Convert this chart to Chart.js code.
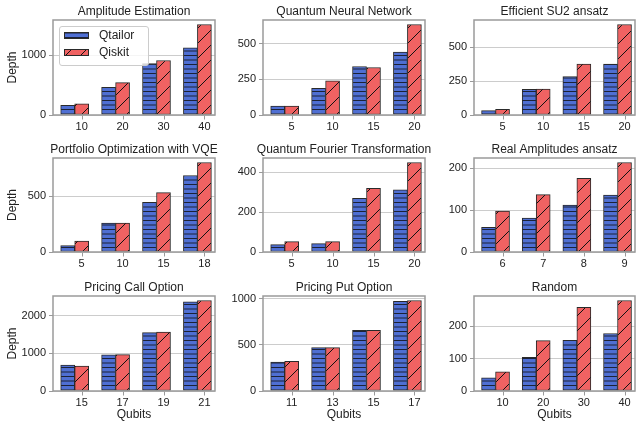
<!DOCTYPE html>
<html lang="en">
<head>
<meta charset="UTF-8">
<title>Circuit depth: Qtailor vs Qiskit</title>
<script src="https://cdn.jsdelivr.net/npm/chart.js"></script>
<style>
  body { margin: 0; background: #fff; }
  #grid { position: relative; width: 637px; height: 426px; overflow: hidden; }
  #grid canvas { position: absolute; }
</style>
</head>
<body>
<div id="grid"></div>
<script>
// data
const seriesNames = ['Qtailor', 'Qiskit'];
const panelTitles = [
  'Amplitude Estimation', 'Quantum Neural Network', 'Efficient SU2 ansatz',
  'Portfolio Optimization with VQE', 'Quantum Fourier Transformation', 'Real Amplitudes ansatz',
  'Pricing Call Option', 'Pricing Put Option', 'Random'
];
const qubitLabels = [
  ['10', '20', '30', '40'], ['5', '10', '15', '20'], ['5', '10', '15', '20'],
  ['5', '10', '15', '18'], ['5', '10', '15', '20'], ['6', '7', '8', '9'],
  ['15', '17', '19', '21'], ['11', '13', '15', '17'], ['10', '20', '30', '40']
];
const qtailorDepth = [
  [160, 460, 860, 1120], [63, 187, 341, 442], [32, 189, 284, 375],
  [57, 259, 446, 687], [37, 42, 270, 312], [59, 81, 112, 136],
  [687, 960, 1551, 2370], [313, 468, 655, 968], [41, 104, 157, 178]
];
const qiskitDepth = [
  [185, 540, 910, 1510], [63, 241, 334, 636], [42, 191, 375, 667],
  [98, 259, 533, 804], [52, 52, 320, 450], [98, 137, 176, 214],
  [661, 965, 1568, 2405], [320, 468, 655, 978], [59, 156, 259, 280]
];
const depthStep = [1000, 250, 250, 500, 200, 100, 1000, 500, 100];

// layout of the 3x3 grid (axes frames in page pixels)
const frameLeft = [53, 263, 474], frameRight = [215, 425, 635];
const frameTop = [20, 158, 296], frameBottom = [115, 252, 391];
const xAxisHeight = [22, 22, 35];
const Y_W = 52, TITLE_H = 20, BAR_W = 14;

Chart.defaults.font.family = '"Liberation Sans", Arial, sans-serif';
Chart.defaults.color = '#222';

function hatch(fill, kind) {
    const c = document.createElement('canvas');
    const g = c.getContext('2d');
    if (kind === '-') {
        c.width = 8; c.height = 9;
        g.fillStyle = fill; g.fillRect(0, 0, 8, 9);
        g.fillStyle = '#1c2236';
        g.fillRect(0, 1, 8, 1);
        g.fillRect(0, 5.5, 8, 1);
    } else {
        c.width = 15; c.height = 15;
        g.fillStyle = fill; g.fillRect(0, 0, 15, 15);
        g.strokeStyle = '#111'; g.lineWidth = 1;
        g.beginPath();
        g.moveTo(-1, 16); g.lineTo(16, -1);
        g.moveTo(-1, 1); g.lineTo(1, -1);
        g.moveTo(14, 16); g.lineTo(16, 14);
        g.stroke();
    }
    return g.createPattern(c, 'repeat');
}

const blueFill = hatch('#4f6fd3', '-');
const redFill = hatch('#f06262', '/');

// grey box round the plot area, like matplotlib spines
const frameBox = {
    id: 'frameBox',
    afterDatasetsDraw(chart) {
        const { ctx, chartArea: a } = chart;
        ctx.save();
        ctx.strokeStyle = '#9a9a9a';
        ctx.lineWidth = 1.5;
        ctx.strokeRect(a.left, a.top, a.width, a.height);
        ctx.restore();
    }
};

// small x tick marks under the Qiskit bars
const qubitTicks = {
    id: 'qubitTicks',
    afterDatasetsDraw(chart) {
        const { ctx, chartArea: a } = chart;
        ctx.save();
        ctx.strokeStyle = '#9a9a9a';
        ctx.lineWidth = 1;
        chart.getDatasetMeta(1).data.forEach(bar => {
            const x = Math.round(bar.x) + 0.5;
            ctx.beginPath();
            ctx.moveTo(x, a.bottom + 0.75);
            ctx.lineTo(x, a.bottom + 4.5);
            ctx.stroke();
        });
        ctx.restore();
    }
};

// legend inside the first panel, upper left
const boxLegend = {
    id: 'boxLegend',
    afterDatasetsDraw(chart, args, opts) {
        if (!opts.show) return;
        const { ctx, chartArea: a } = chart;
        const x = a.left + 6, y = a.top + 6;
        ctx.save();
        ctx.beginPath();
        ctx.roundRect(x + 0.5, y + 0.5, 89, 39, 2.5);
        ctx.fillStyle = 'rgba(255,255,255,0.8)';
        ctx.fill();
        ctx.strokeStyle = '#cccccc';
        ctx.lineWidth = 1;
        ctx.stroke();
        ctx.font = '12px "Liberation Sans", Arial, sans-serif';
        ctx.textBaseline = 'middle';
        chart.data.datasets.forEach((ds, k) => {
            const sy = y + 6 + k * 17;
            ctx.fillStyle = ds.backgroundColor;
            ctx.fillRect(x + 5, sy, 25, 7);
            ctx.strokeStyle = ds.borderColor;
            ctx.strokeRect(x + 5.5, sy + 0.5, 24, 6);
            ctx.fillStyle = '#222';
            ctx.fillText(ds.label, x + 40, sy + 3.5);
        });
        ctx.restore();
    }
};

const grid = document.getElementById('grid');

panelTitles.forEach((title, p) => {
    const r = Math.floor(p / 3), c = p % 3;
    const canvas = document.createElement('canvas');
    canvas.width = Y_W * 2 + frameRight[c] - frameLeft[c];
    canvas.height = TITLE_H + frameBottom[r] - frameTop[r] + xAxisHeight[r];
    canvas.style.left = (frameLeft[c] - Y_W) + 'px';
    canvas.style.top = (frameTop[r] - TITLE_H) + 'px';
    grid.appendChild(canvas);

    const yMax = Math.max(...qtailorDepth[p], ...qiskitDepth[p]) * 1.05;

    new Chart(canvas, {
        type: 'bar',
        data: {
            datasets: [
                {
                    label: seriesNames[0],
                    data: qtailorDepth[p].map((v, i) => ({ x: i, y: v })),
                    backgroundColor: blueFill,
                    borderColor: '#2a2a2a',
                    borderWidth: 1,
                    borderSkipped: false,
                    barThickness: BAR_W
                },
                {
                    label: seriesNames[1],
                    data: qiskitDepth[p].map((v, i) => ({ x: i, y: v })),
                    backgroundColor: redFill,
                    borderColor: '#2a2a2a',
                    borderWidth: 1,
                    borderSkipped: false,
                    barThickness: BAR_W
                }
            ]
        },
        options: {
            responsive: false,
            animation: false,
            events: [],
            scales: {
                x: {
                    type: 'linear',
                    offset: false,
                    min: -0.53,
                    max: 3.43,
                    afterFit: s => { s.height = xAxisHeight[r]; },
                    grid: { display: false, drawTicks: false },
                    border: { display: false },
                    ticks: {
                        stepSize: 1,
                        includeBounds: false,
                        autoSkip: false,
                        maxRotation: 0,
                        labelOffset: BAR_W / 2,
                        padding: 5,
                        font: { size: 11 },
                        callback: v => qubitLabels[p][v]
                    },
                    title: {
                        display: r === 2,
                        text: 'Qubits',
                        font: { size: 12, lineHeight: 1.25 },
                        padding: { top: 0, bottom: 4 }
                    }
                },
                y: {
                    min: 0,
                    max: yMax,
                    afterFit: s => { s.width = Y_W; },
                    afterBuildTicks: s => {
                        const t = [];
                        for (let v = 0; v <= yMax; v += depthStep[p]) t.push({ value: v });
                        s.ticks = t;
                    },
                    grid: { color: '#cccccc', lineWidth: 1, tickLength: 4, tickColor: '#9a9a9a', tickWidth: 1 },
                    border: { display: false },
                    ticks: {
                        padding: 3,
                        font: { size: 11 },
                        callback: v => String(v)
                    },
                    title: {
                        display: c === 0,
                        text: 'Depth',
                        font: { size: 12, lineHeight: 1.25 },
                        padding: { top: 4, bottom: 0 }
                    }
                },
                // empty axis on the right so the centred title sits over the plot area
                spacer: {
                    type: 'linear',
                    position: 'right',
                    afterFit: s => { s.width = Y_W; },
                    grid: { display: false, drawTicks: false },
                    border: { display: false },
                    ticks: { display: false }
                }
            },
            plugins: {
                legend: { display: false },
                tooltip: { enabled: false },
                title: {
                    display: true,
                    text: title,
                    font: { size: 12, weight: 'normal', lineHeight: 1.25 },
                    padding: { top: 4, bottom: 1 }
                },
                boxLegend: { show: p === 0 }
            }
        },
        plugins: [frameBox, qubitTicks, boxLegend]
    });
});
</script>
</body>
</html>
